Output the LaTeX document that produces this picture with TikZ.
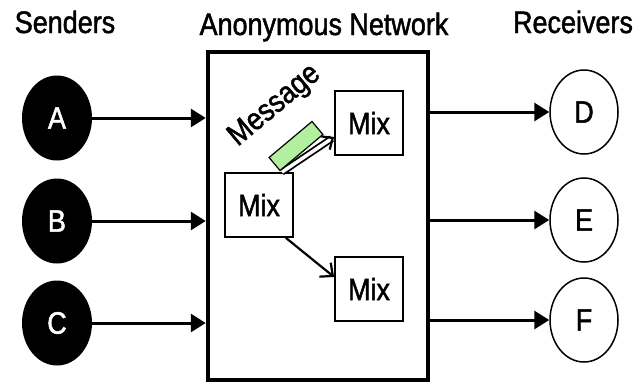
\documentclass[tikz,border=0pt]{standalone}
\usepackage{fontspec}
\setmainfont{Liberation Sans}[FakeStretch=0.87,FakeBold=1.5]
\usetikzlibrary{shapes.geometric,arrows.meta}
\definecolor{msggreen}{RGB}{178,240,160}

\begin{document}
\begin{tikzpicture}[x=1pt,y=-1pt,font=\fontsize{31}{36}\selectfont,
  sender node/.style={ellipse,fill=black,text=white,minimum width=70,minimum height=85,inner sep=0pt},
  receiver node/.style={ellipse,draw,line width=1.5pt,minimum width=68,minimum height=84,inner sep=0pt},
  mix node/.style={rectangle,draw,line width=1.8pt,minimum width=68,minimum height=64,inner sep=0pt},
  big arrow/.style={line width=3pt,-{Triangle[length=15pt,width=18pt]}}]
  \useasboundingbox (0,0) rectangle (639,383);

  \node[anchor=base] (snd) at (65,33) {Senders};
  \node[anchor=base] (anon) at (324,35) {Anonymous Network};
  \node[anchor=base] (rcv) at (573,33) {Receivers};

  \node[rectangle,draw,line width=4.5pt,minimum width=220,minimum height=328] (net) at (318,216) {};

  \node[sender node] (A) at (57,118) {A};
  \node[sender node] (B) at (57,221) {B};
  \node[sender node] (C) at (57,323) {C};

  \node[receiver node] (D) at (584,112) {D};
  \node[receiver node] (E) at (584,220) {E};
  \node[receiver node] (F) at (584,320) {F};

  \node[mix node] (mixL) at (259,205) {Mix};
  \node[mix node] (mixT) at (369,123) {Mix};
  \node[mix node] (mixB) at (369,289) {Mix};

  \draw[big arrow] (A) -- (A -| net.west);
  \draw[big arrow] (B) -- (B -| net.west);
  \draw[big arrow] (C) -- (C -| net.west);
  \draw[big arrow] (net.east |- D) -- (D);
  \draw[big arrow] (net.east |- E) -- (E);
  \draw[big arrow] (net.east |- F) -- (F);

  \draw[line width=1.8pt,double=white,double distance=3.5pt,-{Straight Barb[length=9pt,width=16pt,line width=2.2pt]}]
    ([xshift=-12pt]mixL.north east) -- ([yshift=-14pt]mixT.west);
  \draw[line width=2.2pt,-{Straight Barb[length=10pt,width=18pt]}]
    ([xshift=-8pt]mixL.south east) -- ([yshift=12pt]mixB.west);

  \node[rectangle,draw,line width=1.2pt,fill=msggreen,rotate=40,minimum width=56,minimum height=17,inner sep=0pt] (pkt) at (296,146) {};
  \node[rotate=40] (msg) at (275,106) {Message};
\end{tikzpicture}
\end{document}
